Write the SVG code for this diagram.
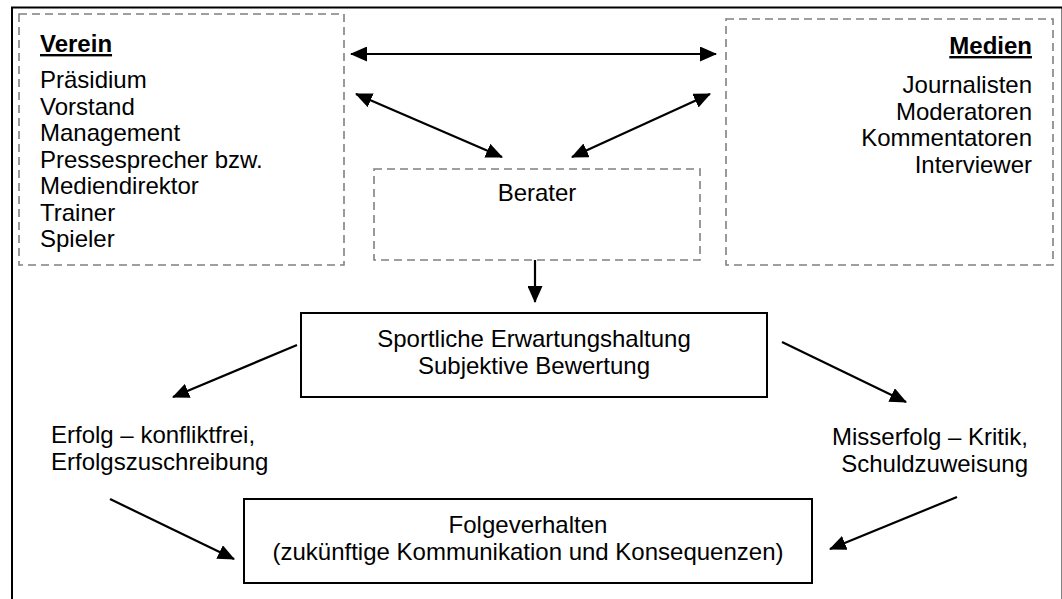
<svg xmlns="http://www.w3.org/2000/svg" width="1062" height="599" viewBox="0 0 1062 599">
<style>
text{font-family:"Liberation Sans",Arial,sans-serif;font-size:24px;fill:#000}
.h{font-weight:bold;text-decoration:underline}
.dash{fill:none;stroke:#808080;stroke-width:1.6;stroke-dasharray:8 5}
.solid{fill:#fff;stroke:#000;stroke-width:2}
.conn line{stroke:#000;stroke-width:2.2}
</style>
<defs>
<marker id="ah" markerUnits="userSpaceOnUse" markerWidth="17" markerHeight="15" viewBox="0 0 17 15" refX="16" refY="7.5" orient="auto-start-reverse">
<path d="M0,0 L17,7.5 L0,15 z" fill="#000"/>
</marker>
</defs>
<rect width="1062" height="599" fill="#fff"/>
<rect x="12" y="7.5" width="1050.5" height="620" fill="none" stroke="#000" stroke-width="2"/>
<g id="verein">
<rect class="dash" x="19" y="14" width="325" height="251"/>
<text class="h" x="40" y="52">Verein</text>
<text x="40" y="88">Präsidium</text>
<text x="40" y="114.5">Vorstand</text>
<text x="40" y="141">Management</text>
<text x="40" y="167.5">Pressesprecher bzw.</text>
<text x="40" y="194">Mediendirektor</text>
<text x="40" y="220.5">Trainer</text>
<text x="40" y="247">Spieler</text>
</g>
<g id="medien">
<rect class="dash" x="726" y="19" width="327" height="246"/>
<text class="h" x="1032" y="54" text-anchor="end">Medien</text>
<text x="1032" y="93" text-anchor="end">Journalisten</text>
<text x="1032" y="119.5" text-anchor="end">Moderatoren</text>
<text x="1032" y="146" text-anchor="end">Kommentatoren</text>
<text x="1032" y="172.5" text-anchor="end">Interviewer</text>
</g>
<g id="berater">
<rect class="dash" x="374" y="169" width="326" height="91"/>
<text x="537" y="201" text-anchor="middle">Berater</text>
</g>
<g id="erwartung">
<rect class="solid" x="301" y="313" width="466" height="84"/>
<text x="534" y="347" text-anchor="middle">Sportliche Erwartungshaltung</text>
<text x="534" y="373.5" text-anchor="middle">Subjektive Bewertung</text>
</g>
<g id="erfolg">
<text x="51" y="443">Erfolg – konfliktfrei,</text>
<text x="51" y="469.5">Erfolgszuschreibung</text>
</g>
<g id="misserfolg">
<text x="1028" y="445" text-anchor="end">Misserfolg – Kritik,</text>
<text x="1028" y="471.5" text-anchor="end">Schuldzuweisung</text>
</g>
<g id="folgeverhalten">
<rect class="solid" x="244" y="499" width="568" height="84"/>
<text x="528" y="533" text-anchor="middle">Folgeverhalten</text>
<text x="528" y="559.5" text-anchor="middle">(zukünftige Kommunikation und Konsequenzen)</text>
</g>
<g class="conn" id="connectors">
<line x1="351" y1="54" x2="716" y2="54" marker-start="url(#ah)" marker-end="url(#ah)"/>
<line x1="356" y1="94" x2="502" y2="157" marker-start="url(#ah)" marker-end="url(#ah)"/>
<line x1="710" y1="94" x2="572" y2="157" marker-start="url(#ah)" marker-end="url(#ah)"/>
<line x1="535" y1="260" x2="535" y2="302" marker-end="url(#ah)"/>
<line x1="297" y1="345" x2="173" y2="397" marker-end="url(#ah)"/>
<line x1="782" y1="342" x2="906" y2="402" marker-end="url(#ah)"/>
<line x1="110" y1="499" x2="234" y2="559" marker-end="url(#ah)"/>
<line x1="957" y1="497" x2="830" y2="549" marker-end="url(#ah)"/>
</g>
</svg>
